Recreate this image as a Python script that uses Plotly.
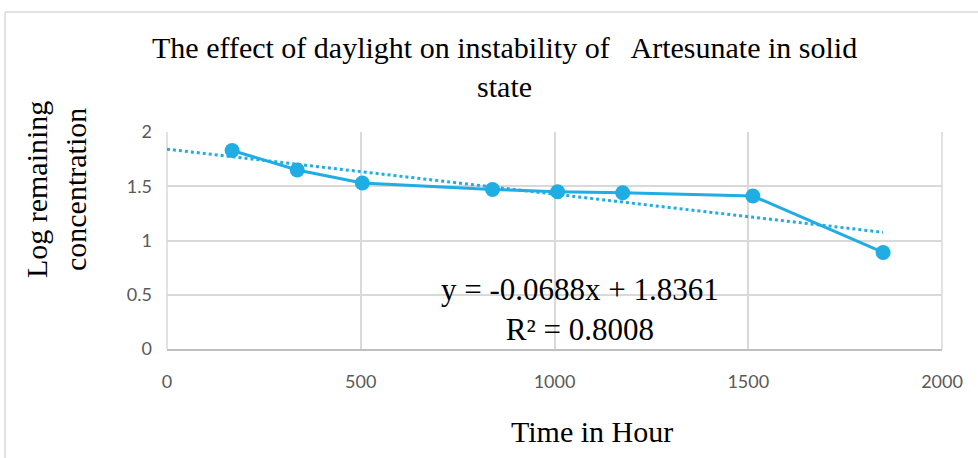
import numpy as np
import plotly.graph_objects as go

hours = [168, 336, 504, 840, 1008, 1176, 1512, 1848]
log_conc = [1.83, 1.65, 1.53, 1.47, 1.45, 1.44, 1.41, 0.89]
x_ticks = [0, 500, 1000, 1500, 2000]
y_ticks = [0, 0.5, 1, 1.5, 2]
title_text = "The effect of daylight on instability of   Artesunate in solid<br>state"
eq_text = "y = -0.0688x + 1.8361<br>R² = 0.8008"
x_title = "Time in Hour"
y_title = "Log remaining<br>concentration"

slope, intercept = np.polyfit(hours, log_conc, 1)
trend_x = [0, hours[-1]]
trend_y = [intercept + slope * v for v in trend_x]

blue = "#1FADE4"
serif = "Liberation Serif, Times New Roman, serif"
tickfont = dict(family="Lato, Calibri, sans-serif", size=18, color="#595959")

fig = go.Figure()
fig.add_trace(go.Scatter(x=trend_x, y=trend_y, mode="lines",
                         line=dict(color=blue, width=3, dash="dot"), showlegend=False))
fig.add_trace(go.Scatter(x=hours, y=log_conc, mode="lines+markers",
                         line=dict(color=blue, width=3),
                         marker=dict(color=blue, size=15), showlegend=False))

fig.update_layout(
    width=978, height=458,
    margin=dict(l=167, r=36, t=132, b=109),
    paper_bgcolor="white", plot_bgcolor="white",
    xaxis=dict(range=[0, 2000], tickvals=x_ticks, showgrid=True, gridcolor="#d9d9d9",
               gridwidth=1.5, zeroline=False, showline=True, linecolor="#bfbfbf", linewidth=2,
               ticks="", tickfont=tickfont, ticklabelstandoff=15, automargin=False),
    yaxis=dict(range=[0, 2], tickvals=y_ticks, showgrid=True, gridcolor="#d9d9d9",
               gridwidth=1.5, zeroline=False, showline=False, ticks="", tickfont=tickfont,
               ticklabelstandoff=14, automargin=False),
    annotations=[
        dict(text=title_text, x=(504 - 167) / 775, y=(349 - 67) / 217, xref="paper", yref="paper",
             showarrow=False, font=dict(family=serif, size=30, color="black"),
             xanchor="center", yanchor="middle", align="center"),
        dict(text=eq_text, x=0.533, y=0.18, xref="paper", yref="paper",
             showarrow=False, font=dict(family=serif, size=31, color="black"),
             xanchor="center", yanchor="middle", align="center"),
        dict(text=x_title, x=0.548, y=-0.382, xref="paper", yref="paper",
             showarrow=False, font=dict(family=serif, size=30, color="black"),
             xanchor="center", yanchor="middle"),
        dict(text=y_title, x=-0.143, y=0.733, xref="paper", yref="paper", textangle=-90,
             showarrow=False, font=dict(family=serif, size=30, color="black"),
             xanchor="center", yanchor="middle", align="center"),
    ],
    shapes=[
        dict(type="line", xref="paper", yref="paper", x0=-0.209, x1=-0.209, y0=-1, y1=1.553,
             line=dict(color="#d9d9d9", width=1.5)),
        dict(type="line", xref="paper", yref="paper", x0=-0.209, x1=1.1, y0=1.553, y1=1.553,
             line=dict(color="#d9d9d9", width=1.5)),
        dict(type="line", xref="paper", yref="paper", x0=1, x1=1, y0=0, y1=1,
             line=dict(color="#d9d9d9", width=1.5), layer="below"),
        dict(type="line", xref="paper", yref="paper", x0=0, x1=0, y0=0, y1=1,
             line=dict(color="#d9d9d9", width=1.5), layer="below"),
    ],
)

fig.write_html("out.html", config={"displayModeBar": False},
               post_script="document.body.style.margin='0';")
